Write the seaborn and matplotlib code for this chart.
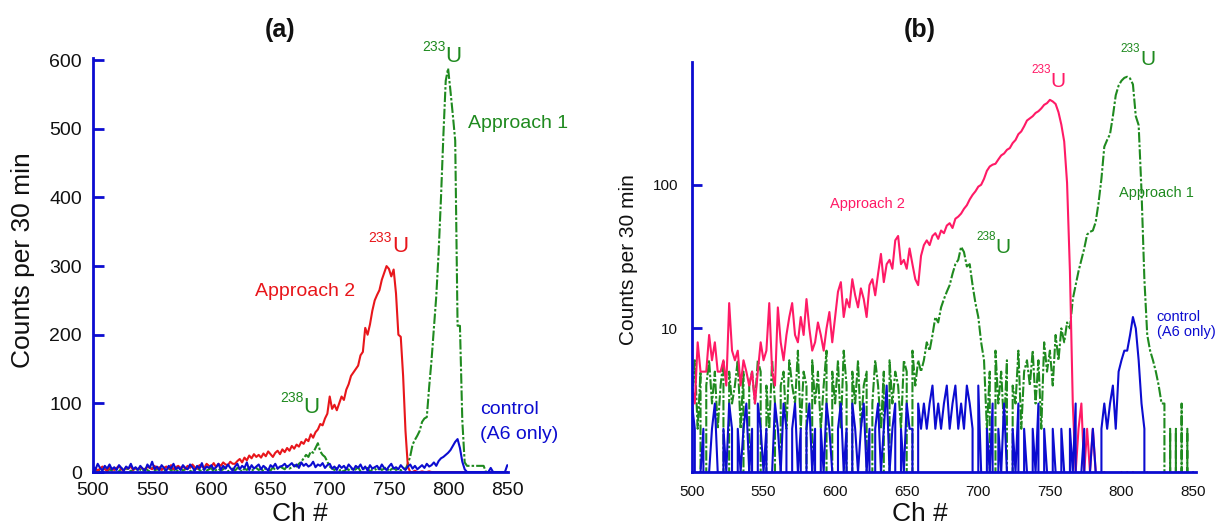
import numpy as np
import pandas as pd
import seaborn as sns
import matplotlib.pyplot as plt
from matplotlib.ticker import FixedLocator, FixedFormatter, NullLocator

# channel grid (every 2nd channel)
channels = np.arange(500, 852, 2)

# ---- panel (a): linear counts per 30 min ----
approach1_lin = [
    2, 5, 0, 4, 3, 6, 1, 4, 2, 5,
    3, 0, 6, 2, 4, 5, 1, 3, 6, 2,
    4, 1, 5, 3, 0, 6, 2, 4, 3, 5,
    1, 4, 6, 2, 5, 0, 3, 6, 2, 4,
    5, 2, 0, 4, 6, 3, 1, 5, 2, 4,
    6, 0, 3, 5, 2, 4, 7, 1, 3, 5,
    2, 6, 4, 0, 5, 3, 7, 2, 4, 6,
    3, 5, 1, 6, 4, 2, 7, 3, 5, 8,
    6, 4, 9, 5, 7, 10, 8, 12, 15, 20,
    25, 22, 30, 28, 35, 42, 30, 25, 22, 15,
    8, 5, 3, 6, 2, 4, 0, 5, 3, 6,
    2, 4, 7, 1, 5, 3, 6, 0, 4, 5,
    2, 6, 3, 5, 7, 1, 4, 6, 3, 5,
    2, 6, 4, 12, 23, 40, 47, 53, 60, 73,
    78, 80, 124, 163, 210, 256, 320, 400, 490, 570,
    588, 555, 520, 483, 213, 213, 75, 14, 9, 9,
    9, 9, 9, 9, 9, 9, 0, 0, 0, 0,
    0, 0, 0, 0, 0, 0,
]
approach2_lin = [
    3, 6, 2, 5, 8, 4, 2, 7, 5, 3,
    6, 9, 4, 2, 7, 5, 8, 3, 6, 4,
    7, 5, 3, 8, 6, 4, 9, 5, 7, 3,
    6, 8, 5, 10, 4, 7, 9, 6, 8, 5,
    9, 6, 11, 7, 5, 10, 8, 6, 12, 9,
    8, 13, 7, 12, 9, 14, 11, 10, 15, 12,
    12, 16, 19, 14, 21, 17, 24, 20, 26, 22,
    25, 21, 27, 23, 30, 26, 22, 28, 31, 26,
    33, 29, 35, 31, 38, 34, 40, 37, 44, 41,
    48, 45, 55, 50, 58, 62, 70, 68, 78, 85,
    110, 92, 98, 90, 100, 110, 105, 120, 128, 140,
    145, 150, 155, 170, 175, 210, 200, 215, 235, 250,
    258, 265, 280, 290, 300, 296, 285, 295, 260, 200,
    197, 140, 60, 8, 0, 0, 2, 0, 0, 1,
    0, 0, 1, 0, 0, 0, 0, 0, 0, 0,
    0, 0, 0, 0, 0, 0, 0, 0, 0, 0,
    0, 0, 0, 0, 0, 0, 0, 0, 0, 0,
    0, 0, 0, 0, 0, 0,
]
control_lin = [
    8, 3, 12, 6, 2, 9, 5, 11, 4, 7,
    3, 10, 6, 2, 8, 5, 12, 4, 7, 3,
    9, 5, 2, 11, 6, 15, 4, 8, 3, 10,
    6, 2, 9, 5, 12, 4, 7, 3, 10, 6,
    4, 11, 7, 2, 9, 5, 13, 3, 8, 6,
    10, 4, 7, 12, 3, 9, 5, 11, 6, 2,
    8, 12, 4, 9, 6, 14, 3, 10, 5, 8,
    11, 4, 9, 6, 2, 10, 7, 12, 5, 8,
    9, 12, 7, 10, 13, 8, 11, 6, 14, 9,
    12, 8, 10, 15, 7, 11, 9, 13, 6, 10,
    12, 5, 8, 3, 10, 6, 9, 4, 11, 7,
    3, 9, 6, 11, 4, 8, 2, 10, 5, 7,
    9, 4, 11, 6, 3, 8, 12, 5, 7, 4,
    10, 6, 3, 8, 11, 5, 9, 4, 7, 10,
    6, 12, 8, 10, 14, 9, 16, 20, 22, 25,
    28, 32, 38, 44, 48, 35, 15, 4, 0, 0,
    0, 0, 0, 0, 0, 0, 0, 0, 6, 0,
    0, 0, 0, 0, 0, 10,
]

# ---- panel (b): log counts per 30 min ----
approach1_log = [
    3, 6, 2, 5, 0, 4, 6, 3, 5, 2,
    4, 6, 0, 5, 3, 4, 6, 2, 5, 0,
    4, 5, 3, 6, 5, 0, 4, 2, 6, 3,
    0, 4, 5, 2, 6, 4, 3, 7, 2, 5,
    4, 0, 6, 3, 5, 2, 4, 7, 0, 5,
    3, 6, 2, 7, 4, 0, 5, 3, 6, 2,
    4, 5, 0, 3, 6, 4, 2, 5, 0, 6,
    3, 5, 4, 2, 6, 5, 0, 7, 4, 6,
    5, 6, 8, 7, 9, 12, 11, 14, 16, 18,
    20, 24, 28, 30, 37, 34, 27, 28, 20, 15,
    12, 8, 6, 2, 5, 0, 7, 3, 5, 2,
    6, 0, 4, 3, 7, 2, 5, 6, 4, 7,
    3, 6, 2, 8, 5, 7, 4, 9, 6, 10,
    8, 11, 10, 16, 20, 25, 30, 36, 45, 47,
    48, 55, 75, 110, 184, 205, 225, 300, 420, 490,
    530, 555, 565, 550, 500, 300, 260, 90, 22, 9,
    7, 6, 5, 4, 3, 3, 0, 2, 0, 2,
    0, 3, 0, 2, 0, 0,
]
approach2_log = [
    4, 3, 8, 5, 5, 5, 9, 6, 8, 5,
    5, 6, 4, 15, 7, 6, 7, 4, 6, 5,
    4, 5, 3, 5, 8, 6, 7, 15, 5, 4,
    14, 8, 6, 9, 12, 15, 9, 8, 12, 9,
    16, 10, 7, 8, 11, 9, 7, 10, 13, 8,
    12, 18, 21, 12, 16, 14, 22, 17, 14, 19,
    16, 12, 20, 22, 17, 24, 33, 21, 28, 30,
    26, 41, 44, 28, 30, 26, 36, 28, 22, 20,
    32, 38, 41, 38, 44, 46, 42, 48, 46, 52,
    54, 50, 58, 60, 63, 68, 72, 79, 85, 90,
    97, 100, 110, 125, 134, 138, 140, 150, 160, 165,
    175, 180, 195, 205, 225, 235, 255, 280, 290, 300,
    316, 325, 340, 360, 370, 390, 380, 365, 320, 262,
    200, 103, 25, 3, 1, 2, 3, 1, 2, 1,
    2, 1, 0, 0, 1, 0, 0, 0, 0, 0,
    1, 0, 1, 0, 1, 0, 0, 0, 0, 1,
    0, 0, 0, 0, 0, 1, 0, 1, 0, 0,
    1, 0, 0, 0, 0, 0,
]
control_log = [
    3, 2, 0, 1, 2, 0, 1, 2, 3, 1,
    0, 2, 1, 3, 2, 0, 2, 1, 2, 3,
    1, 2, 0, 3, 2, 1, 2, 0, 1, 3,
    2, 1, 3, 2, 0, 2, 3, 1, 2, 0,
    2, 3, 1, 2, 0, 2, 1, 3, 2, 1,
    0, 2, 3, 1, 2, 0, 3, 2, 1, 2,
    3, 1, 2, 0, 2, 3, 1, 2, 4, 1,
    2, 3, 0, 2, 1, 3, 2, 2, 0, 3,
    2, 3, 2, 3, 4, 2, 3, 2, 3, 4,
    2, 3, 4, 2, 3, 2, 4, 3, 2, 0,
    4, 1, 0, 2, 1, 3, 0, 2, 1, 3,
    1, 0, 2, 1, 3, 0, 2, 1, 0, 2,
    1, 3, 0, 2, 1, 0, 2, 1, 0, 2,
    1, 0, 2, 1, 3, 0, 1, 2, 0, 1,
    2, 1, 0, 2, 3, 2, 3, 4, 2, 5,
    6, 7, 7, 9, 12, 10, 6, 3, 2, 0,
    0, 0, 0, 0, 0, 0, 0, 0, 0, 0,
    0, 0, 0, 0, 0, 1,
]

GREEN = '#1f8a1f'
RED = '#e8161b'
PINK = '#ff1a66'
BLUE = '#0c0cd0'
TXT = '#111111'

sns.set_theme(style='white')
plt.rcParams['font.family'] = ['Liberation Sans', 'DejaVu Sans']

fig = plt.figure(figsize=(12.15, 5.28), dpi=100)
ax_a = fig.add_axes([0.0765, 0.106, 0.342, 0.784])
ax_b = fig.add_axes([0.5695, 0.106, 0.4148, 0.7765])


def draw_panel(ax, green, red, blue, red_color):
    df = pd.DataFrame({'ch': channels, 'app1': green, 'app2': red, 'ctl': blue})
    sns.lineplot(data=df, x='ch', y='app1', ax=ax, color=GREEN, linewidth=1.5)
    ax.lines[-1].set_dashes((5, 1, 1.2, 1))
    sns.lineplot(data=df, x='ch', y='app2', ax=ax, color=red_color, linewidth=1.5)
    sns.lineplot(data=df, x='ch', y='ctl', ax=ax, color=BLUE, linewidth=1.5)
    ax.set_xlabel('')
    ax.set_ylabel('')
    for s in ['top', 'right']:
        ax.spines[s].set_visible(False)
    for s in ['left', 'bottom']:
        ax.spines[s].set_color(BLUE)
        ax.spines[s].set_linewidth(2)
    ax.grid(False)


draw_panel(ax_a, approach1_lin, approach2_lin, control_lin, RED)
draw_panel(ax_b, approach1_log, approach2_log, control_log, PINK)

# panel (a) axes
ax_a.set_xlim(500, 851)
ax_a.set_ylim(0, 603)
ax_a.set_xticks([500, 550, 600, 650, 700, 750, 800, 850])
ax_a.set_yticks([0, 100, 200, 300, 400, 500, 600])
ax_a.tick_params(axis='x', length=0, pad=7, labelsize=14, labelcolor=TXT)
ax_a.tick_params(axis='y', direction='in', length=8, width=2, color=BLUE,
                 pad=8, labelsize=14, labelcolor=TXT, left=True)

# panel (b) axes
ax_b.set_yscale('log')
ax_b.set_xlim(500, 852)
ax_b.set_ylim(1, 715)
ax_b.set_xticks([500, 550, 600, 650, 700, 750, 800, 850])
ax_b.yaxis.set_major_locator(FixedLocator([10, 100]))
ax_b.yaxis.set_major_formatter(FixedFormatter(['10', '100']))
ax_b.yaxis.set_minor_locator(NullLocator())
ax_b.tick_params(axis='x', length=0, pad=9, labelsize=11, labelcolor=TXT)
ax_b.tick_params(axis='y', direction='in', length=7, width=2, color=BLUE,
                 pad=10, labelsize=11, labelcolor=TXT, left=True)

# titles and axis labels
fig.text(0.2305, 0.943, '(a)', ha='center', va='center', fontsize=18,
         fontweight='bold', color=TXT)
fig.text(0.757, 0.943, '(b)', ha='center', va='center', fontsize=18,
         fontweight='bold', color=TXT)
fig.text(0.019, 0.508, 'Counts per 30 min', rotation=90, ha='center',
         va='center', fontsize=19, color=TXT)
fig.text(0.517, 0.508, 'Counts per 30 min', rotation=90, ha='center',
         va='center', fontsize=15, color=TXT)
fig.text(0.247, 0.004, 'Ch #', ha='center', va='bottom', fontsize=19, color=TXT)
fig.text(0.757, 0.004, 'Ch #', ha='center', va='bottom', fontsize=19, color=TXT)


def isotope(ax, x, y_num, y_u, mass, color, fs_num, fs_u):
    ax.text(x, y_num, mass, ha='right', va='baseline', fontsize=fs_num, color=color)
    ax.text(x, y_u, 'U', ha='left', va='baseline', fontsize=fs_u, color=color)


# panel (a) annotations
ax_a.text(817, 507, 'Approach 1', ha='left', va='center', fontsize=14, color=GREEN)
ax_a.text(679, 263, 'Approach 2', ha='center', va='center', fontsize=14, color=RED)
ax_a.text(827, 91, 'control', ha='left', va='center', fontsize=14, color=BLUE)
ax_a.text(827, 54, '(A6 only)', ha='left', va='center', fontsize=14, color=BLUE)
isotope(ax_a, 752.5, 335, 320, '233', RED, 10, 16)
isotope(ax_a, 797.5, 614, 597, '233', GREEN, 10, 16)
isotope(ax_a, 678, 102, 86, '238', GREEN, 10, 16)

# panel (b) annotations
ax_b.text(622.5, 73.6, 'Approach 2', ha='center', va='center', fontsize=10.5, color=PINK)
ax_b.text(798.6, 87.6, 'Approach 1', ha='left', va='center', fontsize=10.5, color=GREEN)
ax_b.text(824.5, 12.1, 'control', ha='left', va='center', fontsize=10.5, color=BLUE)
ax_b.text(824.5, 9.4, '(A6 only)', ha='left', va='center', fontsize=10.5, color=BLUE)
isotope(ax_b, 750.4, 600, 478, '233', PINK, 8.5, 15)
isotope(ax_b, 813, 837, 680, '233', GREEN, 8.5, 15)
isotope(ax_b, 712, 41.5, 33.7, '238', GREEN, 8.5, 15)

fig.savefig('out.png', dpi=100)
